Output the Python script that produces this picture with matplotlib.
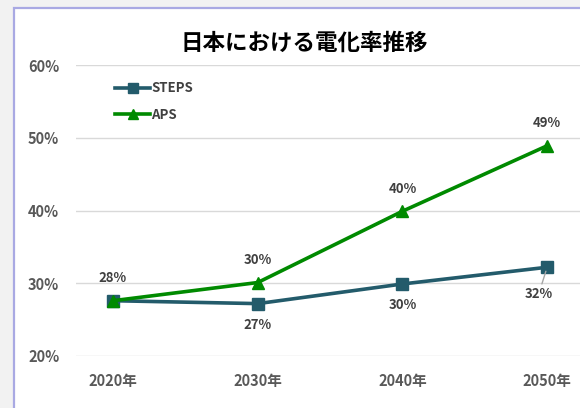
import matplotlib.pyplot as plt
from matplotlib.patches import Rectangle

plt.rcParams['font.family'] = ['Noto Sans CJK JP', 'DejaVu Sans']

years = ['2020年', '2030年', '2040年', '2050年']
steps = [27.6, 27.2, 29.9, 32.2]
aps = [27.6, 30.1, 39.9, 48.9]
steps_labels = ['', '27%', '30%', '32%']
aps_labels = ['28%', '30%', '40%', '49%']
yticks = [20, 30, 40, 50, 60]

fig = plt.figure(figsize=(5.8, 4.08), dpi=100)
fig.patch.set_facecolor('#f2f2f2')
# white chart area with lavender border (cut off at right/bottom)
fig.patches.append(Rectangle((14 / 580, -0.1), 1.2, 400 / 408 + 0.1,
                             transform=fig.transFigure, facecolor='white',
                             edgecolor='#a9a9e3', linewidth=1.6, zorder=-5))

ax = fig.add_axes([76 / 580, 52 / 408, 1 - 76 / 580, 291 / 408])
ax.set_zorder(2)
ax.set_facecolor('none')
x = range(len(years))

ax.plot(x, steps, color='#235b6b', lw=2.6, marker='s', ms=8, label='STEPS', zorder=3)
ax.plot(x, aps, color='#008a00', lw=2.6, marker='^', ms=9, label='APS', zorder=3)

ax.set_ylim(20, 60)
ax.set_xlim(-0.256, 3.227)
ax.set_yticks(yticks)
ax.set_yticklabels([f'{v}%' for v in yticks])
ax.set_xticks(list(x))
ax.set_xticklabels(years)
ax.grid(axis='y', color='#d9d9d9', lw=1)
ax.set_axisbelow(True)
for s in ax.spines.values():
    s.set_visible(False)
ax.tick_params(length=0, labelsize=10.5, colors='#595959')
ax.tick_params(axis='x', pad=12)
ax.tick_params(axis='y', pad=12)
for lab in ax.get_xticklabels() + ax.get_yticklabels():
    lab.set_fontweight('bold')

for i, t in enumerate(aps_labels):
    ax.annotate(t, (i, aps[i]), xytext=(0, 11), textcoords='offset points',
                ha='center', va='bottom', fontsize=9.5, color='#404040', fontweight='bold')
for i, t in enumerate(steps_labels):
    if not t:
        continue
    if i == 3:
        ax.annotate(t, (i, steps[i]), xytext=(-6, -14), textcoords='offset points',
                    ha='center', va='top', fontsize=9.5, color='#404040', fontweight='bold',
                    arrowprops=dict(arrowstyle='-', color='#a6a6a6', lw=1,
                                    shrinkA=0, shrinkB=3))
    else:
        ax.annotate(t, (i, steps[i]), xytext=(0, -10), textcoords='offset points',
                    ha='center', va='top', fontsize=9.5, color='#404040', fontweight='bold')

leg = ax.legend(loc='upper left', bbox_to_anchor=(0.0546, 0.985), frameon=False,
                fontsize=9.5, handlelength=2.6, labelspacing=0.95, handletextpad=0.1,
                markerscale=0.85)
for t in leg.get_texts():
    t.set_color('#404040')
    t.set_fontweight('bold')

fig.text(304 / 580, 1 - 43 / 408, '日本における電化率推移', ha='center', va='center',
         fontsize=16.2, fontweight='bold', color='black')

fig.savefig('out.png', dpi=100, facecolor=fig.get_facecolor())
